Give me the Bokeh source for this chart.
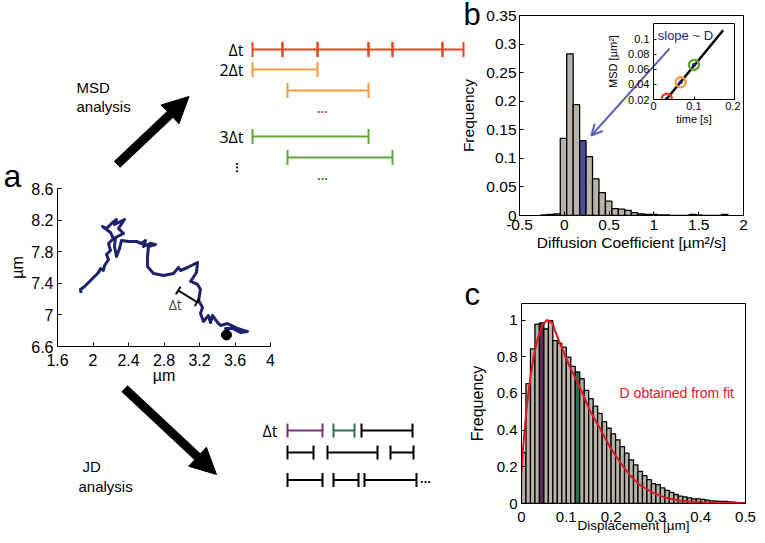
import numpy as np
from bokeh.plotting import figure
from bokeh.layouts import column
from bokeh.models import (Range1d, Label, Arrow, NormalHead, OpenHead, TeeHead,
                          FixedTicker, NumeralTickFormatter)
from bokeh.embed import file_html
from bokeh.resources import INLINE

FONT = "Liberation Sans"
DFONT = "Open Sans"

# ---------------- panel a : single trajectory (um) ----------------
traj_x = [1.865, 1.859, 1.904, 1.961, 2.017, 2.062, 2.085, 2.118, 2.130, 2.175,
          2.152, 2.197, 2.175, 2.231, 2.197, 2.107, 2.152, 2.220, 2.265, 2.242,
          2.310, 2.355, 2.287, 2.344, 2.254, 2.242, 2.265, 2.299, 2.321, 2.400,
          2.490, 2.547, 2.592, 2.569, 2.648, 2.704, 2.625,
          2.614, 2.614, 2.682, 2.794, 2.907, 2.963, 2.986, 3.065, 3.132, 3.178,
          3.166, 3.099, 3.178, 3.211, 3.189, 3.234, 3.211, 3.245, 3.301, 3.324,
          3.347, 3.403, 3.437, 3.516, 3.606, 3.696, 3.741, 3.662, 3.572, 3.493, 3.527]
traj_y = [7.277, 7.322, 7.359, 7.423, 7.486, 7.537, 7.587, 7.562, 7.625, 7.701,
          7.765, 7.815, 7.904, 7.967, 8.043, 8.119, 8.094, 8.170, 8.208, 8.144,
          8.182, 8.208, 8.094, 8.030, 7.980, 7.866, 7.739, 7.840, 7.942, 7.929,
          7.929, 7.904, 7.942, 7.866, 7.904, 7.891, 7.866,
          7.739, 7.613, 7.524, 7.499, 7.524, 7.600, 7.562, 7.600, 7.638, 7.663,
          7.537, 7.423, 7.385, 7.322, 7.182, 7.094, 7.018, 6.916, 6.992, 6.904,
          6.992, 6.904, 6.866, 6.891, 6.840, 6.803, 6.790, 6.777, 6.828, 6.828, 6.765]
traj_start_x = [3.504]
traj_start_y = [6.746]
traj_ticks_x = [1.6, 2, 2.4, 2.8, 3.2, 3.6, 4]
traj_ticks_y = [6.6, 7, 7.4, 7.8, 8.2, 8.6]
dt_bar_x = [2.960, 3.174]
dt_bar_y = [7.309, 7.161]

# ---------------- panel b : diffusion coefficient histogram ----------------
diff_centers = [-0.225, -0.153, -0.081, -0.009, 0.063, 0.135, 0.207, 0.279, 0.351, 0.423,
                0.495, 0.567, 0.639, 0.711, 0.783, 0.855, 0.927, 0.999, 1.071, 1.143,
                1.215, 1.287, 1.359, 1.431, 1.503, 1.575, 1.647, 1.719, 1.791]
diff_freq = [0.001, 0.002, 0.003, 0.135, 0.283, 0.194, 0.131, 0.103, 0.064, 0.040,
             0.025, 0.012, 0.011, 0.009, 0.005, 0.003, 0.002, 0.002, 0.001, 0.001,
             0.0, 0.0, 0.0, 0.002, 0.001, 0.0, 0.0, 0.0, 0.002]
diff_bin_width = 0.072
diff_highlight = 0.207
diff_ticks_x = [-0.5, 0, 0.5, 1, 1.5, 2]
diff_ticks_y = [0, 0.05, 0.1, 0.15, 0.2, 0.25, 0.3, 0.35]

# inset: MSD vs time lag
msd_time = [0.033, 0.067, 0.100]
msd_value = [0.021, 0.043, 0.066]
msd_fit_time = [0.033, 0.172]
msd_fit_value = [0.021, 0.112]
inset_ticks_x = [0, 0.1, 0.2]
inset_ticks_y = [0.02, 0.04, 0.06, 0.08, 0.1]

# ---------------- panel c : jump distance histogram ----------------
disp_freq = [0.278, 0.653, 0.843, 0.978, 0.984, 0.951, 0.996, 0.888, 0.874, 0.852,
             0.798, 0.747, 0.717, 0.680, 0.617, 0.572, 0.531, 0.491, 0.446, 0.410,
             0.379, 0.347, 0.310, 0.274, 0.238, 0.211, 0.175, 0.152, 0.130, 0.108,
             0.103, 0.085, 0.072, 0.061, 0.049, 0.040, 0.036, 0.031, 0.025, 0.025,
             0.022, 0.018, 0.014, 0.013, 0.011, 0.011, 0.009, 0.007, 0.005, 0.004]
disp_bin_width = 0.01
disp_centers = list(np.round(0.005 + disp_bin_width * np.arange(len(disp_freq)), 4))
disp_purple = 0.045
disp_green = 0.125
fit_x = [0, 0.005, 0.0125, 0.02, 0.027, 0.036, 0.046, 0.057, 0.068, 0.079, 0.094, 0.108,
         0.123, 0.138, 0.152, 0.175, 0.197, 0.219, 0.241, 0.263, 0.292, 0.322, 0.351,
         0.396, 0.44, 0.5]
fit_y = [0.175, 0.347, 0.545, 0.690, 0.798, 0.897, 0.969, 1.0, 0.987, 0.915, 0.825, 0.744,
         0.671, 0.590, 0.509, 0.410, 0.310, 0.229, 0.157, 0.103, 0.061, 0.031, 0.016,
         0.007, 0.004, 0.002]
disp_ticks_x = [0, 0.1, 0.2, 0.3, 0.4, 0.5]
disp_ticks_y = [0, 0.2, 0.4, 0.6, 0.8, 1]

# ---------------- schematic interval diagrams (diagram units) ----------------
msd_dt_ticks = [252, 282, 317, 368, 392, 442, 463]
msd_2dt_starts = [252, 287]
msd_2dt_ends = [317, 368]
msd_3dt_starts = [252, 287]
msd_3dt_ends = [368, 392]
jd_row1_starts = [287, 333, 361]
jd_row1_ends = [322, 354, 412]
jd_row2_starts = [287, 327, 390]
jd_row2_ends = [313, 377, 413]
jd_row3_starts = [287, 333, 364]
jd_row3_ends = [322, 358, 416]

RED = "#e8441e"
ORANGE = "#f39b3f"
GREEN = "#62a63a"
PURPLE = "#7a2e73"
DKGREEN = "#2e6e55"
NAVY = "#1b216a"
GRAY = "#b7b3a8"
SLATE = "#4d4d9e"


def canvas(w, h, xr, yr, margin):
    p = figure(width=w, height=h, x_range=Range1d(*xr), y_range=Range1d(*yr),
               output_backend="svg", toolbar_location=None,
               x_axis_location=None, y_axis_location=None,
               min_border=0, min_border_left=0, min_border_right=0,
               min_border_top=0, min_border_bottom=0, margin=margin, frame_align=False)
    p.grid.visible = False
    p.outline_line_color = None
    p.background_fill_color = None
    p.border_fill_color = None
    return p


def label(p, x, y, s, size, color="black", font=FONT, align="left",
          baseline="middle", angle=0, style="normal"):
    p.add_layout(Label(x=x, y=y, text=s, text_font=font, text_font_size=size,
                       text_color=color, text_align=align, text_baseline=baseline,
                       angle=angle, text_font_style=style))


def intervals(p, starts, ends, y, color, cap=7.5, lw=2):
    n = len(starts)
    p.segment(x0=starts, y0=[y] * n, x1=ends, y1=[y] * n, line_color=color, line_width=lw)
    xs = list(starts) + list(ends)
    p.segment(x0=xs, y0=[y - cap] * len(xs), x1=xs, y1=[y + cap] * len(xs),
              line_color=color, line_width=lw)


def style_axes(p, fs, lfs, tick_in=4):
    for ax in list(p.xaxis) + list(p.yaxis):
        ax.major_tick_in = tick_in
        ax.major_tick_out = 0
        ax.minor_tick_line_color = None
        ax.major_label_text_font = FONT
        ax.major_label_text_font_size = fs
        ax.major_label_text_color = "black"
        ax.axis_label_text_font = FONT
        ax.axis_label_text_font_size = lfs
        ax.axis_label_text_font_style = "normal"
        ax.axis_label_text_color = "black"
        ax.axis_line_color = "black"
        ax.major_tick_line_color = "black"


# ======== top-left schematic: MSD analysis ========
pm = canvas(495, 192, (0, 495), (192, 0), (0, 0, 0, 0))
intervals(pm, msd_dt_ticks[:-1], msd_dt_ticks[1:], 49, RED)
intervals(pm, msd_2dt_starts[:1], msd_2dt_ends[:1], 69, ORANGE)
intervals(pm, msd_2dt_starts[1:], msd_2dt_ends[1:], 90, ORANGE)
intervals(pm, msd_3dt_starts[:1], msd_3dt_ends[:1], 136, GREEN)
intervals(pm, msd_3dt_starts[1:], msd_3dt_ends[1:], 157, GREEN)
label(pm, 243, 49, "Δt", "16px", font=DFONT, align="right")
label(pm, 243, 69, "2Δt", "16px", font=DFONT, align="right")
label(pm, 243, 136, "3Δt", "16px", font=DFONT, align="right")
label(pm, 322, 108, "...", "13px", color="#c0501a", align="center", style="bold")
label(pm, 322, 175, "...", "13px", color="#3f7f22", align="center", style="bold")
label(pm, 233, 167, "...", "13px", align="center", style="bold", angle=np.pi / 2)
label(pm, 76, 86.5, "MSD", "15px")
label(pm, 76, 106, "analysis", "15px")
pm.add_layout(Arrow(end=NormalHead(size=26, fill_color="black", line_color="black"),
                    x_start=116.5, y_start=164, x_end=188.5, y_end=96,
                    line_width=9, line_color="black"))
label(pm, 3, 175, "a", "32px")
label(pm, 463, 14, "b", "31px")

# ======== panel a: trajectory ========
pa = figure(width=280, height=216, x_range=Range1d(1.6, 4), y_range=Range1d(6.6, 8.6),
            output_backend="svg", toolbar_location=None, frame_align=False,
            min_border_left=57, min_border_right=10, min_border_top=12, min_border_bottom=46,
            margin=(-16, 0, 0, 0))
pa.grid.visible = False
pa.outline_line_color = None
pa.background_fill_color = None
pa.border_fill_color = None
pa.line(traj_x, traj_y, line_color=NAVY, line_width=3, line_join="round")
pa.scatter(traj_start_x, traj_start_y, size=10, color="black")
pa.add_layout(Arrow(start=TeeHead(size=9, line_width=2), end=TeeHead(size=9, line_width=2),
                    x_start=dt_bar_x[0], y_start=dt_bar_y[0], x_end=dt_bar_x[1], y_end=dt_bar_y[1],
                    line_width=2, line_color="black"))
pa.add_layout(Label(x=3.0, y=7.13, text="Δt", text_font=DFONT, text_font_size="14px",
                    text_align="right", text_baseline="middle"))
pa.xaxis.ticker = FixedTicker(ticks=traj_ticks_x)
pa.yaxis.ticker = FixedTicker(ticks=traj_ticks_y)
pa.xaxis.formatter = NumeralTickFormatter(format="0.[0]")
pa.yaxis.formatter = NumeralTickFormatter(format="0.[0]")
pa.xaxis.axis_label = "µm"
pa.yaxis.axis_label = "µm"
style_axes(pa, "16px", "16px")
pa.xaxis.major_label_standoff = 7
pa.yaxis.major_label_standoff = 4
pa.xaxis.axis_label_standoff = -2
pa.yaxis.axis_label_standoff = 2

# ======== bottom-left schematic: JD analysis ========
pj = canvas(440, 255, (60, 500), (535, 280), (-112, 0, 0, 60))
intervals(pj, jd_row1_starts[:1], jd_row1_ends[:1], 430, PURPLE, cap=7)
intervals(pj, jd_row1_starts[1:2], jd_row1_ends[1:2], 430, DKGREEN, cap=7)
intervals(pj, jd_row1_starts[2:], jd_row1_ends[2:], 430, "black", cap=7)
intervals(pj, jd_row2_starts, jd_row2_ends, 452, "black", cap=7)
intervals(pj, jd_row3_starts, jd_row3_ends, 479.5, "black", cap=7)
label(pj, 277, 430, "Δt", "16px", font=DFONT, align="right")
label(pj, 425, 478, "...", "13px", align="center", style="bold")
label(pj, 82, 465.5, "JD", "15px")
label(pj, 78, 485.5, "analysis", "15px")
pj.add_layout(Arrow(end=NormalHead(size=26, fill_color="black", line_color="black"),
                    x_start=124, y_start=388, x_end=216, y_end=474,
                    line_width=9, line_color="black"))
label(pj, 464, 294, "c", "31px")

# ======== panel b: diffusion coefficient histogram ========
pb = figure(width=314, height=272, x_range=Range1d(-0.5, 2), y_range=Range1d(0, 0.35),
            output_backend="svg", toolbar_location=None, frame_align=False,
            min_border_left=76, min_border_right=14, min_border_top=15, min_border_bottom=57,
            margin=(-535, 0, 0, 443))
pb.grid.visible = False
pb.outline_line_color = "black"
pb.outline_line_alpha = 1
pb.border_fill_color = None
b_colors = [SLATE if abs(c - diff_highlight) < 1e-9 else GRAY for c in diff_centers]
pb.vbar(x=diff_centers, width=diff_bin_width, top=diff_freq, bottom=0,
        fill_color=b_colors, line_color="black", line_width=1.3)
pb.add_layout(Arrow(end=OpenHead(size=11, line_color="#5a5fae", line_width=2),
                    x_start=1.174, y_start=0.292, x_end=0.302, y_end=0.140,
                    line_color="#5a5fae", line_width=2))
pb.xaxis.ticker = FixedTicker(ticks=diff_ticks_x)
pb.yaxis.ticker = FixedTicker(ticks=diff_ticks_y)
pb.xaxis.formatter = NumeralTickFormatter(format="0.[0]")
pb.yaxis.formatter = NumeralTickFormatter(format="0.[00]")
pb.xaxis.axis_label = "Diffusion Coefficient [µm²/s]"
pb.yaxis.axis_label = "Frequency"
style_axes(pb, "15.5px", "15.5px")
pb.xaxis.major_label_standoff = 4
pb.yaxis.major_label_standoff = 3
pb.xaxis.axis_label_standoff = 1
pb.yaxis.axis_label_standoff = 6

# ======== inset: MSD vs time ========
pi = figure(width=140, height=113, x_range=Range1d(0, 0.2), y_range=Range1d(0.02, 0.121),
            output_backend="svg", toolbar_location=None, frame_align=False,
            min_border_left=53, min_border_right=6, min_border_top=5, min_border_bottom=32,
            margin=(-254, 0, 0, 600))
pi.grid.visible = False
pi.outline_line_color = "black"
pi.outline_line_alpha = 1
pi.background_fill_color = None
pi.border_fill_color = None
pi.line(msd_fit_time, msd_fit_value, line_color="black", line_width=2.5)
pi.scatter(msd_time, msd_value, size=10, fill_color=None, line_color=[RED, ORANGE, GREEN],
           line_width=2.5)
pi.scatter(msd_time, msd_value, size=3, color=NAVY)
pi.add_layout(Label(x=0.0105, y=0.1053, text="slope ~ D", text_font=FONT, text_font_size="13px",
                    text_color="#25257a", text_baseline="middle"))
pi.xaxis.ticker = FixedTicker(ticks=inset_ticks_x)
pi.yaxis.ticker = FixedTicker(ticks=inset_ticks_y)
pi.xaxis.formatter = NumeralTickFormatter(format="0.[0]")
pi.yaxis.formatter = NumeralTickFormatter(format="0.[00]")
pi.xaxis.axis_label = "time [s]"
pi.yaxis.axis_label = "MSD [µm²]"
style_axes(pi, "11px", "11px", tick_in=3)
pi.xaxis.major_label_standoff = 2
pi.yaxis.major_label_standoff = 4
pi.xaxis.axis_label_standoff = 0
pi.yaxis.axis_label_standoff = 6

# ======== panel c: jump distance histogram ========
pc = figure(width=314, height=263, x_range=Range1d(0, 0.5), y_range=Range1d(0, 1.09),
            output_backend="svg", toolbar_location=None, frame_align=False,
            min_border_left=78, min_border_right=12, min_border_top=31, min_border_bottom=31,
            margin=(141, 0, 0, 443))
pc.grid.visible = False
pc.outline_line_color = "black"
pc.outline_line_alpha = 1
pc.border_fill_color = None
c_colors = []
for c in disp_centers:
    if abs(c - disp_purple) < 1e-9:
        c_colors.append("#5e2a5c")
    elif abs(c - disp_green) < 1e-9:
        c_colors.append(DKGREEN)
    else:
        c_colors.append(GRAY)
pc.vbar(x=disp_centers, width=disp_bin_width, top=disp_freq, bottom=0,
        fill_color=c_colors, line_color="black", line_width=1.3)
pc.line(fit_x, fit_y, line_color="#e4161e", line_width=2)
pc.add_layout(Label(x=0.219, y=0.60, text="D obtained from fit", text_font=FONT,
                    text_font_size="14px", text_color="#e4161e", text_baseline="middle"))
pc.xaxis.ticker = FixedTicker(ticks=disp_ticks_x)
pc.yaxis.ticker = FixedTicker(ticks=disp_ticks_y)
pc.xaxis.formatter = NumeralTickFormatter(format="0.[0]")
pc.yaxis.formatter = NumeralTickFormatter(format="0.[0]")
pc.xaxis.axis_label = "Displacement [µm]"
pc.yaxis.axis_label = "Frequency"
style_axes(pc, "15px", "16px")
pc.xaxis.axis_label_text_font_size = "13.5px"
pc.xaxis.major_label_standoff = 8
pc.yaxis.major_label_standoff = 4
pc.xaxis.axis_label_standoff = -7
pc.yaxis.axis_label_standoff = 8

layout = column(pm, pa, pj, pb, pi, pc)
open("out.html", "w").write(file_html(layout, INLINE))
